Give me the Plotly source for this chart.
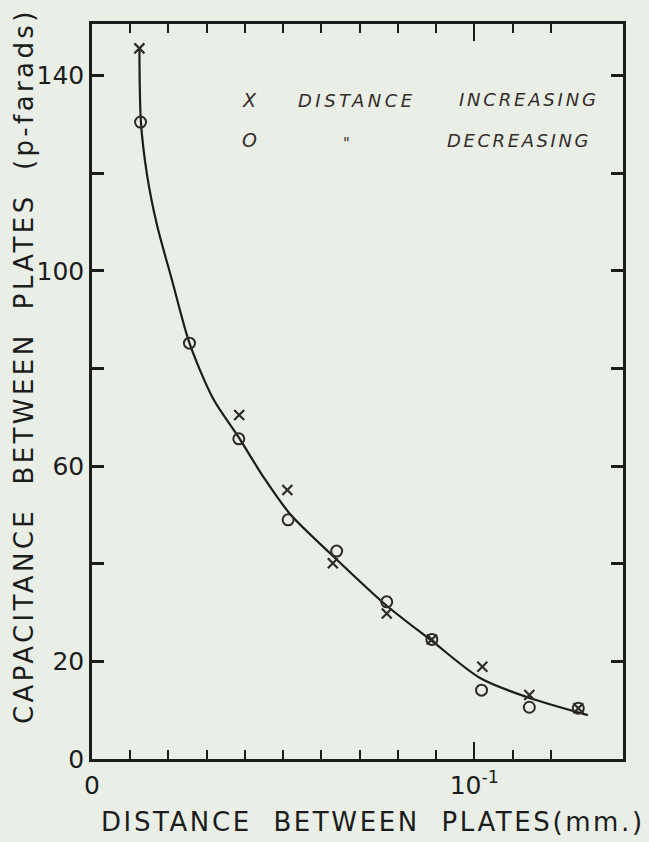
import plotly.graph_objects as go

# ---- data ----
inc_dist = [0.0124, 0.0385, 0.0511, 0.0630, 0.0771, 0.0889, 0.1021, 0.1144, 0.1272]
inc_cap = [145.6, 70.5, 55.1, 40.1, 29.8, 24.5, 18.9, 13.1, 10.4]

dec_dist = [0.0127, 0.0255, 0.0384, 0.0513, 0.0640, 0.0771, 0.0889, 0.1019, 0.1144, 0.1272]
dec_cap = [130.5, 85.2, 65.6, 49.0, 42.6, 32.2, 24.5, 14.1, 10.6, 10.4]

curve_dist = [0.0124, 0.0128, 0.0144, 0.0170, 0.0209, 0.0255, 0.0317, 0.0383,
              0.0450, 0.0518, 0.0633, 0.0771, 0.0889, 0.1015, 0.1137, 0.1297]
curve_cap = [145.7, 130.5, 119.7, 109.4, 98.2, 85.2, 73.8, 66.0,
             57.6, 50.2, 41.4, 31.4, 24.2, 16.6, 12.7, 9.0]

y_tickvals = [0, 20, 60, 100, 140]
y_ticktext = ["0", "20", "60", "100", "140"]
y_minorvals = [40, 80, 120]
x_tickvals = [0, 0.1]
x_ticktext = ["0", "10<sup>-1</sup>"]
x_minorvals = [0.01, 0.02, 0.03, 0.04, 0.05, 0.06, 0.07, 0.08, 0.09, 0.11, 0.12]

INK = "#1c1c1c"
PEN = "#352c2a"
BG = "#e9efe7"
FONT = "DejaVu Sans"


def spaced(txt, px):
    return "<span style='letter-spacing:%spx'>%s</span>" % (px, txt)


fig = go.Figure()
fig.add_trace(go.Scatter(x=curve_dist, y=curve_cap, mode="lines",
                         line=dict(color=INK, width=2.2, shape="spline", smoothing=0.8),
                         hoverinfo="skip", showlegend=False))
fig.add_trace(go.Scatter(x=dec_dist, y=dec_cap, mode="markers", name="DECREASING",
                         marker=dict(symbol="circle-open", size=11, color="#2e2a28",
                                     line=dict(width=2, color="#2e2a28")),
                         showlegend=False))
fig.add_trace(go.Scatter(x=inc_dist, y=inc_cap, mode="markers", name="INCREASING",
                         marker=dict(symbol="x-thin-open", size=10, color="#2e2a28",
                                     line=dict(width=2.2, color="#2e2a28")),
                         showlegend=False))

axis_common = dict(showline=True, linewidth=2.5, linecolor=INK, mirror="ticks",
                   showgrid=False, zeroline=False, ticks="inside", tickcolor=INK,
                   tickfont=dict(family=FONT, size=25, color=INK))

fig.update_xaxes(range=[0, 0.1389], tickmode="array", tickvals=x_tickvals,
                 ticktext=x_ticktext, ticklen=17, tickwidth=2,
                 ticklabelstandoff=2,
                 minor=dict(tickmode="array", tickvals=x_minorvals, ticks="inside",
                            ticklen=9, tickwidth=2, tickcolor=INK, showgrid=False),
                 **axis_common)
fig.update_yaxes(range=[0, 150.6], tickmode="array", tickvals=y_tickvals,
                 ticktext=y_ticktext, ticklen=12, tickwidth=2.5,
                 minor=dict(tickmode="array", tickvals=y_minorvals, ticks="inside",
                            ticklen=12, tickwidth=2.5, tickcolor=INK, showgrid=False),
                 **axis_common)


def px_x(p):
    return (p - 92) / 531


def px_y(p):
    return (759 - p) / 735


annotations = [
    dict(text=spaced("DISTANCE\u00a0\u00a0BETWEEN\u00a0\u00a0PLATES(mm.)", 2.6),
         x=px_x(373), y=px_y(822), font=dict(family=FONT, size=26, color=INK)),
    dict(text=spaced("CAPACITANCE\u00a0\u00a0BETWEEN\u00a0\u00a0PLATES\u00a0\u00a0(p-farads)", 3.4),
         x=px_x(24), y=px_y(366), textangle=-90,
         font=dict(family=FONT, size=26, color=INK)),
    # hand-written key
    dict(text="<i>X</i>", x=px_x(249), y=px_y(100), font=dict(family=FONT, size=19, color=PEN)),
    dict(text="<i>%s</i>" % spaced("DISTANCE", 3.5), x=px_x(357), y=px_y(101),
         font=dict(family=FONT, size=18, color=PEN)),
    dict(text="<i>%s</i>" % spaced("INCREASING", 2.8), x=px_x(529), y=px_y(100),
         font=dict(family=FONT, size=18, color=PEN)),
    dict(text="<i>O</i>", x=px_x(249), y=px_y(140), font=dict(family=FONT, size=19, color=PEN)),
    dict(text="<i>\"</i>", x=px_x(346), y=px_y(144), font=dict(family=FONT, size=15, color=PEN)),
    dict(text="<i>%s</i>" % spaced("DECREASING", 2.6), x=px_x(519), y=px_y(140),
         font=dict(family=FONT, size=18, color=PEN)),
]
for a in annotations:
    a.update(xref="paper", yref="paper", showarrow=False, xanchor="center", yanchor="middle")

fig.update_layout(width=649, height=842,
                  margin=dict(l=92, r=26, t=24, b=83),
                  paper_bgcolor=BG, plot_bgcolor=BG,
                  annotations=annotations, showlegend=False)

fig.write_html("out.html")
